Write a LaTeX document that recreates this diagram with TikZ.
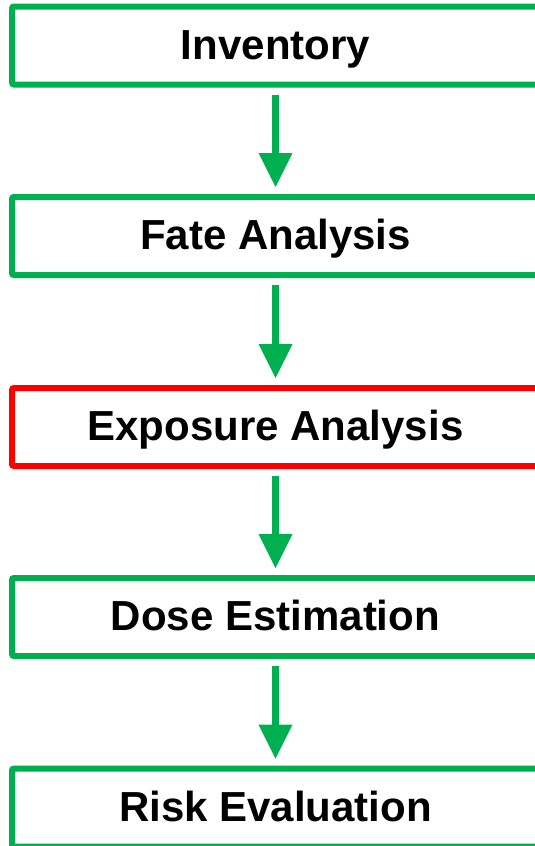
\documentclass[tikz,border=0pt]{standalone}
\usepackage{fontspec}
\setmainfont{Liberation Sans}
\usetikzlibrary{arrows.meta}
\definecolor{flowgreen}{HTML}{00B050}
\definecolor{flowred}{HTML}{FF0000}
\tikzset{
  stagebox/.style={draw=flowgreen, line width=6pt, rounded corners=2pt,
    minimum width=527pt, minimum height=78pt, inner sep=0pt,
    text height=33pt, text depth=6pt,
    font=\fontsize{42}{48}\selectfont\bfseries, text=black},
  focusbox/.style={stagebox, draw=flowred},
  flowarrow/.style={draw=flowgreen, line width=7pt,
    -{Triangle[width=34pt,length=34pt,line width=0pt]},
    shorten <=7pt, shorten >=7pt}
}
\begin{document}
\begin{tikzpicture}
  \useasboundingbox (0pt,0pt) rectangle (535pt,-846pt);
  \clip (0pt,0pt) rectangle (535pt,-846pt);
  \node[stagebox] (inv)  at (275.5pt,-45.5pt)  {Inventory};
  \node[stagebox] (fate) at (275.5pt,-236pt)   {Fate Analysis};
  \node[focusbox] (exp)  at (275.5pt,-427pt)   {Exposure Analysis};
  \node[stagebox] (dose) at (275.5pt,-617pt)   {Dose Estimation};
  \node[stagebox] (risk) at (275.5pt,-807.5pt) {Risk Evaluation};
  \draw[flowarrow] (inv)  -- (fate);
  \draw[flowarrow] (fate) -- (exp);
  \draw[flowarrow] (exp)  -- (dose);
  \draw[flowarrow] (dose) -- (risk);
\end{tikzpicture}
\end{document}
